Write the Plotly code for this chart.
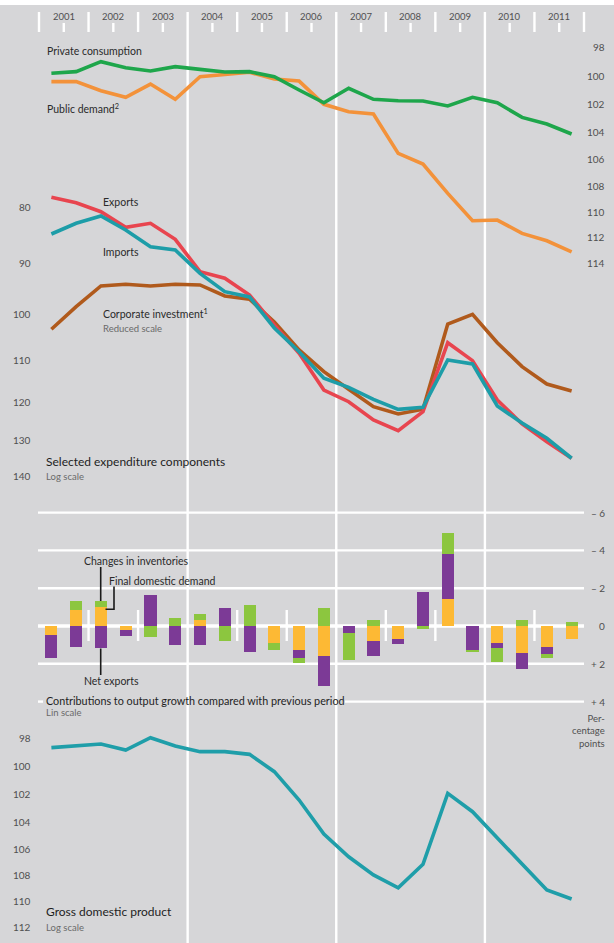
import math
import plotly.graph_objects as go

W, H = 614, 943

# ---------------- data ----------------
half_years = ["2001H1", "2001H2", "2002H1", "2002H2", "2003H1", "2003H2", "2004H1", "2004H2",
              "2005H1", "2005H2", "2006H1", "2006H2", "2007H1", "2007H2", "2008H1", "2008H2",
              "2009H1", "2009H2", "2010H1", "2010H2", "2011H1", "2011H2"]
year_labels = ["2001", "2002", "2003", "2004", "2005", "2006", "2007", "2008", "2009", "2010", "2011"]

private_consumption = [99.89, 99.78, 99.08, 99.50, 99.73, 99.43, 99.62, 99.80, 99.78, 100.13, 101.07,
                       101.98, 100.95, 101.73, 101.83, 101.85, 102.21, 101.59, 101.98, 103.03, 103.51, 104.24]
public_demand = [100.48, 100.48, 101.12, 101.59, 100.65, 101.73, 100.13, 99.96, 99.82, 100.30, 100.44,
                 102.09, 102.62, 102.79, 105.66, 106.46, 108.67, 110.77, 110.72, 111.76, 112.34, 113.21]

exports = [78.45, 79.34, 80.84, 83.50, 82.81, 85.61, 91.57, 92.83, 96.11, 102.29, 108.48,
           117.09, 119.97, 124.61, 127.41, 122.49, 106.12, 110.16, 119.55, 125.65, 130.36, 134.93]
imports = [84.67, 82.81, 81.56, 83.97, 86.93, 87.53, 91.88, 95.45, 96.51, 102.93, 108.12,
           114.27, 116.44, 119.38, 121.88, 121.37, 110.00, 110.92, 121.04, 125.40, 129.44, 134.93]
corporate_investment = [103.21, 98.48, 94.33, 93.99, 94.33, 93.99, 94.13, 96.31, 96.97, 101.66, 107.73,
                        112.71, 116.92, 121.22, 123.07, 121.88, 102.08, 100.04, 106.12, 111.54, 115.64, 117.33]

final_domestic_demand = [0.48, -0.85, -0.99, 0.21, 0.0, 0.0, -0.32, 0.0, 0.0, 0.88, 1.27,
                         1.59, 0.0, 0.78, 0.69, 0.0, -1.43, 0.0, 0.88, 1.41, 1.09, 0.71]
net_exports = [1.20, 1.09, 1.18, 0.30, -1.62, 0.99, 0.99, -0.93, 1.39, 0.0, 0.41,
               1.59, 0.39, 0.81, 0.28, -1.82, -2.38, 1.27, 0.30, 0.88, 0.39, 0.0]
changes_in_inventories = [0.0, -0.49, -0.34, 0.0, 0.60, -0.41, -0.30, 0.78, -1.11, 0.39, 0.30,
                          -0.93, 1.41, -0.32, 0.0, 0.18, -1.09, 0.12, 0.71, -0.32, 0.19, -0.21]

gdp = [98.69, 98.56, 98.44, 98.86, 98.00, 98.58, 98.97, 98.97, 99.16, 100.38, 102.41,
       104.90, 106.60, 107.98, 108.96, 107.17, 101.93, 103.26, 105.22, 107.15, 109.13, 109.83]

top_ticks = [98, 100, 102, 104, 106, 108, 110, 112, 114]
mid_ticks = [80, 90, 100, 110, 120, 130, 140]
bar_ticks = [-6, -4, -2, 0, 2, 4]
bar_tick_text = ["\u2013 6", "\u2013 4", "\u2013 2", "0", "+ 2", "+ 4"]
gdp_ticks = [98, 100, 102, 104, 106, 108, 110, 112]

# ---------------- styling ----------------
BG = "#d6d6d8"
GRID = "#ffffff"
FONT = "Lato"
C_PRIV = "#1ea64b"
C_PUB = "#f3923a"
C_EXP = "#e8454f"
C_IMP = "#1d9da8"
C_INV = "#b05a1c"
C_GDP = "#1f9ea9"
C_FDD = "#fdb934"
C_NX = "#7c3a96"
C_CII = "#8cc63f"


def hx(label):
    return int(label[:4]) + (0.25 if label.endswith("1") else 0.75)


x_vals = [hx(p) for p in half_years]

# x scale: year 2001.0 at px 39, 2012.0 at px 584
px_per_year = (584 - 39) / 11.0
x0 = 2001 - 39 / px_per_year
x_range = [x0, x0 + W / px_per_year]


def log_range(va, pa, vb, pb):
    slope = (pb - pa) / (math.log10(vb) - math.log10(va))
    top = math.log10(va) - pa / slope
    bottom = math.log10(va) + (H - pa) / slope
    return [bottom, top]


def lin_range(va, pa, vb, pb):
    slope = (pb - pa) / (vb - va)
    top = va - pa / slope
    bottom = va + (H - pa) / slope
    return [bottom, top]


top_range = log_range(98, 46, 114, 261.7)
mid_range = log_range(80, 206.7, 140, 476)
bar_range = lin_range(0, 626, -6, 512.6)
gdp_range = log_range(98, 737.7, 112, 926.7)

fig = go.Figure()


# ---------------- traces ----------------
def line(y, color, axis, name, width=3.6):
    fig.add_trace(go.Scatter(x=x_vals, y=y, mode="lines", name=name, yaxis=axis,
                             line=dict(color=color, width=width), hoverinfo="skip"))


line(public_demand, C_PUB, "y", "Public demand")
line(private_consumption, C_PRIV, "y", "Private consumption")
line(corporate_investment, C_INV, "y2", "Corporate investment")
line(exports, C_EXP, "y2", "Exports")
line(imports, C_IMP, "y2", "Imports")
line(gdp, C_GDP, "y4", "Gross domestic product")

for vals, col, nm in [(final_domestic_demand, C_FDD, "Final domestic demand"),
                      (net_exports, C_NX, "Net exports"),
                      (changes_in_inventories, C_CII, "Changes in inventories")]:
    fig.add_trace(go.Bar(x=x_vals, y=vals, name=nm, yaxis="y3", width=0.245,
                         marker=dict(color=col, line=dict(width=0)), hoverinfo="skip"))

# ---------------- gridlines ----------------
shapes = []


def px2p(px):
    return px / W


def py(px):
    return 1 - px / H


def hseg(yref, yval, segs, width=2.4):
    for a, b in segs:
        shapes.append(dict(type="line", xref="paper", yref=yref, x0=px2p(a), x1=px2p(b),
                           y0=yval, y1=yval, line=dict(color=GRID, width=width), layer="below"))


FULL = [(38, 584)]
top_segs = {98: [(38, 43), (147, 584)], 100: FULL, 102: [(38, 43), (127, 584)], 104: FULL,
            106: FULL, 108: [(256, 584)], 110: [(310, 584)], 112: [(392, 584)], 114: [(461, 584)]}
for v in top_ticks:
    hseg("y", math.log10(v), top_segs[v])

mid_segs = {80: [(38, 103), (140, 213)], 90: [(38, 363)], 100: [(38, 102), (210, 584)],
            110: FULL, 120: FULL, 130: FULL, 140: [(38, 43), (89, 584)]}
for v in mid_ticks:
    hseg("y2", math.log10(v), mid_segs[v])

bar_segs = {-6: FULL, -4: FULL, -2: FULL, 0: FULL, 2: FULL, 4: [(38, 43), (345, 584)]}
for v in bar_ticks:
    hseg("y3", v, bar_segs[v], width=3.6 if v == 0 else 2.4)

gdp_segs = {98: [(38, 568)], 100: FULL, 102: FULL, 104: FULL, 106: FULL, 108: FULL, 110: FULL,
            112: [(38, 43), (89, 584)]}
for v in gdp_ticks:
    hseg("y4", math.log10(v), gdp_segs[v])

# year separators / ticks at top
for i in range(12):
    yr = 2001 + i
    bottom_px = H if yr in (2004, 2007, 2010) else 32
    shapes.append(dict(type="line", xref="x", yref="paper", x0=yr, x1=yr, y0=py(12), y1=py(bottom_px),
                       line=dict(color=GRID, width=2.4), layer="below"))
for i in range(11):
    xc = 2001.5 + i
    shapes.append(dict(type="line", xref="x", yref="paper", x0=xc, x1=xc, y0=py(23), y1=py(32),
                       line=dict(color=GRID, width=2.4), layer="below"))

# short year markers on the zero line of the bar panel
for yr in (2002, 2003, 2005, 2006, 2008, 2009, 2011):
    shapes.append(dict(type="line", xref="x", yref="paper", x0=yr, x1=yr, y0=py(610), y1=py(641),
                       line=dict(color=GRID, width=2.4), layer="below"))

# white strip at the very top
shapes.append(dict(type="rect", xref="paper", yref="paper", x0=0, x1=1, y0=py(5), y1=1,
                   fillcolor="#ffffff", line=dict(width=0), layer="above"))

# leader lines for bar legend
LC = "#1a1a1a"
shapes.append(dict(type="line", xref="paper", yref="paper", x0=px2p(100.7), x1=px2p(100.7),
                   y0=py(567), y1=py(601), line=dict(color=LC, width=1.6), layer="above"))
shapes.append(dict(type="path", xref="paper", yref="paper",
                   path=f"M {px2p(114)} {py(586.5)} L {px2p(114)} {py(609.3)} L {px2p(105.5)} {py(609.3)}",
                   line=dict(color=LC, width=1.6), layer="above"))
shapes.append(dict(type="line", xref="paper", yref="paper", x0=px2p(100.7), x1=px2p(100.7),
                   y0=py(648.5), y1=py(675), line=dict(color=LC, width=1.6), layer="above"))

# ---------------- annotations ----------------
ann = []
TICKC = "#505050"


def tick_label(yref, yval, text, x_px, anchor):
    ann.append(dict(xref="paper", yref=yref, x=px2p(x_px), y=yval, text=text, showarrow=False,
                    xanchor=anchor, yanchor="middle", font=dict(family=FONT, size=10, color=TICKC)))


for v in top_ticks:
    tick_label("y", math.log10(v) + 0.0003, str(v), 607, "right")
for v in mid_ticks:
    tick_label("y2", math.log10(v), str(v), 33, "right")
for v, t in zip(bar_ticks, bar_tick_text):
    tick_label("y3", v, t, 607, "right")
for v in gdp_ticks:
    tick_label("y4", math.log10(v), str(v), 33, "right")

for i, lab in enumerate(year_labels):
    ann.append(dict(xref="x", yref="paper", x=2001.5 + i, y=py(16), text=lab, showarrow=False,
                    xanchor="center", yanchor="middle", font=dict(family=FONT, size=9.5, color=TICKC)))


def text(x_px, y_px, t, size=10.5, color="#2a2a2a", anchor="left"):
    ann.append(dict(xref="paper", yref="paper", x=px2p(x_px), y=py(y_px), text=t, showarrow=False,
                    xanchor=anchor, yanchor="middle", align=anchor,
                    font=dict(family=FONT, size=size, color=color)))


text(45, 51, "Private consumption")
text(45, 109, "Public demand<sup>2</sup>")
text(101, 202, "Exports")
text(101, 252, "Imports")
text(101, 313, "Corporate investment<sup>1</sup>")
text(101, 328, "Reduced scale", size=9.5, color="#6a6a6a")
text(44, 461, "Selected expenditure components", size=12, color="#1e1e1e")
text(44, 476, "Log scale", size=9.5, color="#6a6a6a")
text(82, 561, "Changes in inventories")
text(107, 581, "Final domestic demand")
text(82, 681, "Net exports")
text(44, 700, "Contributions to output growth compared with previous period", size=10.8, color="#1e1e1e")
text(44, 712, "Lin scale", size=9.5, color="#6a6a6a")
text(607, 731, "Per-<br>centage<br>points", size=9.5, color=TICKC, anchor="right")
text(44, 911, "Gross domestic product", size=12, color="#1e1e1e")
text(44, 927, "Log scale", size=9.5, color="#6a6a6a")

# ---------------- layout ----------------
fig.update_layout(
    width=W, height=H,
    margin=dict(l=0, r=0, t=0, b=0),
    paper_bgcolor=BG, plot_bgcolor=BG,
    showlegend=False,
    barmode="relative",
    bargap=0,
    font=dict(family=FONT),
    xaxis=dict(range=x_range, visible=False, domain=[0, 1], fixedrange=True),
    yaxis=dict(type="log", range=top_range, visible=False, fixedrange=True),
    yaxis2=dict(type="log", range=mid_range, visible=False, overlaying="y", anchor="x", fixedrange=True),
    yaxis3=dict(type="linear", range=bar_range, visible=False, overlaying="y", anchor="x", fixedrange=True),
    yaxis4=dict(type="log", range=gdp_range, visible=False, overlaying="y", anchor="x", fixedrange=True),
    shapes=shapes,
    annotations=ann,
)

fig.write_html("out.html", config={"displayModeBar": False},
               post_script="document.body.style.margin='0';document.body.style.padding='0';"
                           "document.body.style.overflow='hidden';")
